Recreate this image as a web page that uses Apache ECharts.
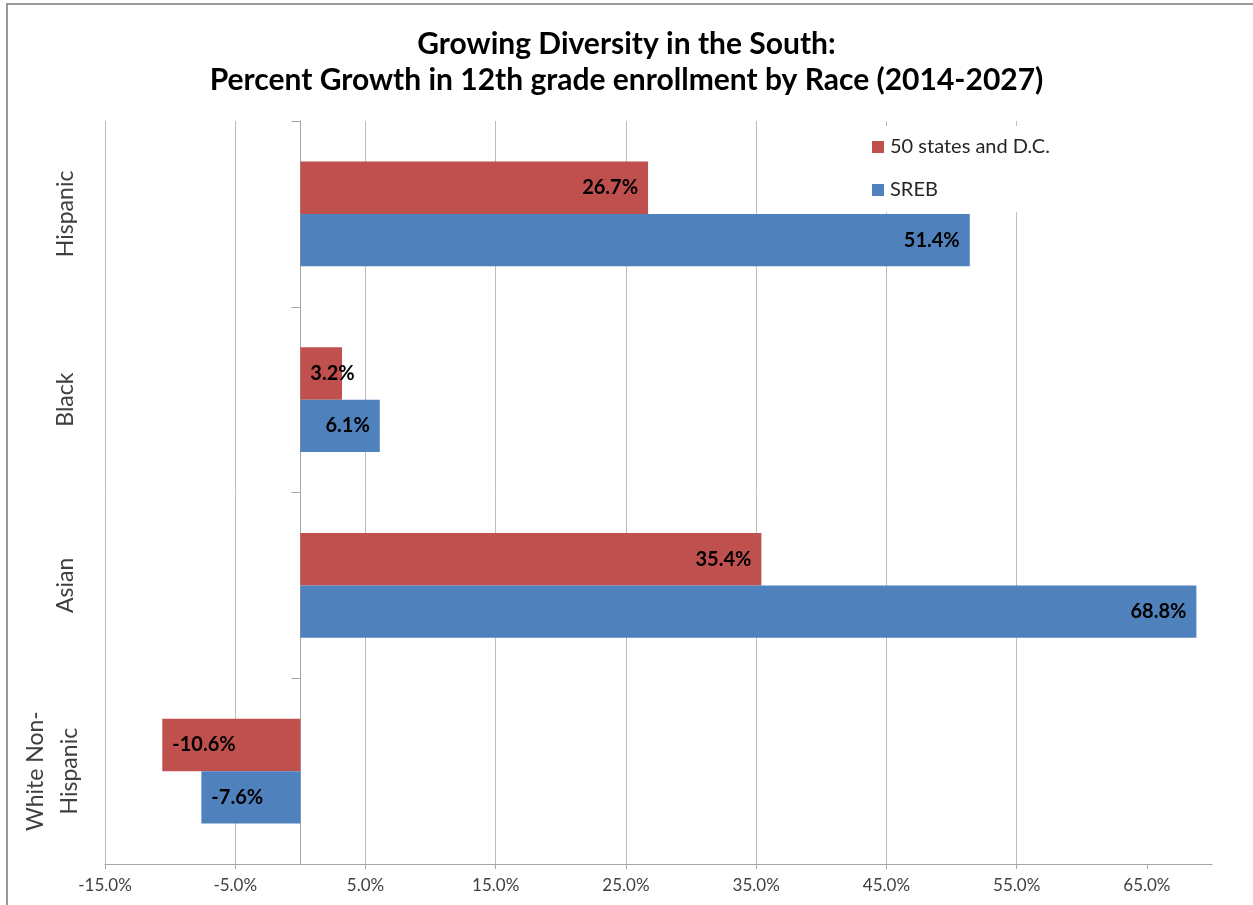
<!DOCTYPE html>
<html>
<head>
<meta charset="utf-8">
<script src="https://cdn.jsdelivr.net/npm/echarts@6/dist/echarts.min.js"></script>
<style>
  html, body { margin: 0; padding: 0; background: #fff; }
  #chart { width: 1253px; height: 905px; }
</style>
</head>
<body>
<div id="chart"></div>
<script>
// Race / ethnicity groups, top to bottom
const categories = ['Hispanic', 'Black', 'Asian', 'White Non-\nHispanic'];
// Percent growth in 12th grade enrollment, 2014-2027
const nationValues = [26.7, 3.2, 35.4, -10.6];   // 50 states and D.C.
const srebValues = [51.4, 6.1, 68.8, -7.6];      // SREB states
const seriesNames = ['50 states and D.C.', 'SREB'];
const xTicks = [-15, -5, 5, 15, 25, 35, 45, 55, 65];

const FONT = 'Lato, "Open Sans", sans-serif';
const RED = '#C0504D';
const BLUE = '#4F81BD';

function pct(v) { return v.toFixed(1) + '%'; }

// Value labels sit inside the bar end; short or negative bars put them at the left
function barData(values) {
  return values.map(v => ({
    value: v,
    label: { position: (v < 5) ? 'insideLeft' : 'insideRight' }
  }));
}

// Wrapped category names get wide line spacing plus a trailing spacer line
function categoryLabel(value) {
  if (value.indexOf('\n') < 0) return value;
  return value.split('\n').map(l => '{w|' + l + '}').join('\n') + '\n{s| }';
}

const chart = echarts.init(document.getElementById('chart'), null, { renderer: 'canvas' });

chart.setOption({
  backgroundColor: '#fff',
  animation: false,
  title: {
    text: 'Growing Diversity in the South:\nPercent Growth in 12th grade enrollment by Race (2014-2027)',
    left: 'center',
    top: 21,
    textStyle: { fontFamily: FONT, fontWeight: 'bold', fontSize: 30, lineHeight: 36, color: '#000' }
  },
  graphic: [{
    type: 'rect',
    shape: { x: 7, y: 4, width: 1400, height: 1000 },
    style: { fill: 'none', stroke: '#9a9a9a', lineWidth: 2 },
    silent: true,
    z: 100
  }],
  legend: {
    data: seriesNames,
    orient: 'vertical',
    left: 866,
    top: 126,
    padding: [11, 12, 12, 6],
    backgroundColor: '#fff',
    icon: 'rect',
    itemWidth: 12,
    itemHeight: 12,
    itemGap: 23,
    z: 10,
    textStyle: { fontFamily: FONT, fontSize: 20, lineHeight: 20, color: '#262626', padding: [0, 0, 0, 1] }
  },
  grid: { left: 105, right: 41, top: 121, bottom: 41, outerBoundsMode: 'none', containLabel: false },
  xAxis: {
    type: 'value',
    min: -15,
    max: 70,
    interval: 10,
    axisLine: { show: true, lineStyle: { color: '#a6a6a6', width: 1 } },
    axisTick: { show: true, length: 5, customValues: xTicks, lineStyle: { color: '#a6a6a6' } },
    splitLine: { show: true, showMinLine: true, showMaxLine: false, lineStyle: { color: '#bdbdbd', width: 1 } },
    axisLabel: {
      customValues: xTicks,
      formatter: v => pct(v),
      fontFamily: FONT, fontSize: 17, color: '#404040', margin: 13
    }
  },
  yAxis: {
    type: 'category',
    data: categories,
    inverse: true,
    axisLine: { show: true, onZero: true, lineStyle: { color: '#a6a6a6', width: 1 } },
    axisTick: { show: true, interval: 0, length: 9, lineStyle: { color: '#a6a6a6' } },
    splitLine: { show: false },
    axisLabel: {
      interval: 0,
      hideOverlap: false,
      rotate: 90,
      verticalAlign: 'middle',
      margin: 39,
      formatter: categoryLabel,
      fontFamily: FONT, fontSize: 23, color: '#404040', lineHeight: 26,
      rich: {
        w: { fontFamily: FONT, fontSize: 23, color: '#404040', lineHeight: 34 },
        s: { fontFamily: FONT, fontSize: 10, lineHeight: 26 }
      }
    }
  },
  series: [
    {
      name: seriesNames[0],
      type: 'bar',
      data: barData(nationValues),
      itemStyle: { color: RED },
      barGap: '0%',
      barCategoryGap: '43.5%',
      label: {
        show: true, distance: 10, formatter: p => pct(p.value),
        fontFamily: FONT, fontWeight: 'bold', fontSize: 20, color: '#000'
      }
    },
    {
      name: seriesNames[1],
      type: 'bar',
      data: barData(srebValues),
      itemStyle: { color: BLUE },
      barGap: '0%',
      barCategoryGap: '43.5%',
      label: {
        show: true, distance: 10, formatter: p => pct(p.value),
        fontFamily: FONT, fontWeight: 'bold', fontSize: 20, color: '#000'
      }
    }
  ]
});
</script>
</body>
</html>
